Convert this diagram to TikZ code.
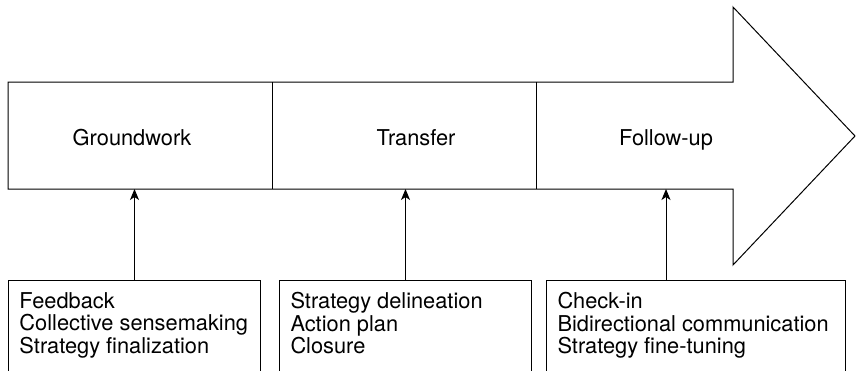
\documentclass[tikz,border=0pt]{standalone}
\usepackage{fontspec}
\setmainfont{TeX Gyre Heros}
\usetikzlibrary{arrows.meta}

\begin{document}
\begin{tikzpicture}[x=1pt,y=-1pt,
        phase/.style={anchor=base,font=\fontsize{21.8}{22.5}\selectfont},
        listbox/.style={draw,line width=1pt,anchor=north west,align=flush left,
            inner xsep=11pt,inner ysep=12pt,
            font=\fontsize{21.8}{22.5}\selectfont},
        feed/.style={-{Stealth[length=11pt,width=9pt,inset=3pt]},line width=1pt}]

        \useasboundingbox (0,0) rectangle (856,370);
        \clip (0,0) rectangle (856,370);

        \coordinate (tl)   at (8,82);
        \coordinate (bl)   at (8,189);
        \coordinate (tip)  at (855,136);

        % big arrow
        \draw [line width=1pt] (tl) -- (733,82) -- (733,7) -- (tip)
              -- (733,265) -- (733,189) -- (bl) -- cycle;

        % dividers
        \draw [line width=1pt] (272,82) -- (272,189);
        \draw [line width=1pt] (536,82) -- (536,189);

        % phases
        \node [phase] (ground) at (132,145) {Groundwork};
        \node [phase] (trans)  at (416,145) {Transfer};
        \node [phase] (follow) at (666,145) {Follow-up};

        % activities (boxes run on past the lower edge)
        \node [listbox,text width=230pt] (fb) at (8,280)
              {Feedback\\Collective sensemaking\\Strategy finalization\rule[-30pt]{0pt}{0pt}};
        \node [listbox,text width=230pt] (sd) at (279,280)
              {Strategy delineation\\Action plan\\Closure\rule[-30pt]{0pt}{0pt}};
        \node [listbox,text width=277pt] (ci) at (546,280)
              {Check-in\\Bidirectional communication\\Strategy fine-tuning\rule[-30pt]{0pt}{0pt}};

        % feeds
        \draw [feed] (fb.north) -- (fb.north |- bl);
        \draw [feed] (sd.north) -- (sd.north |- bl);
        \draw [feed] (ci.north -| follow) -- (follow |- bl);

    \end{tikzpicture}
\end{document}
